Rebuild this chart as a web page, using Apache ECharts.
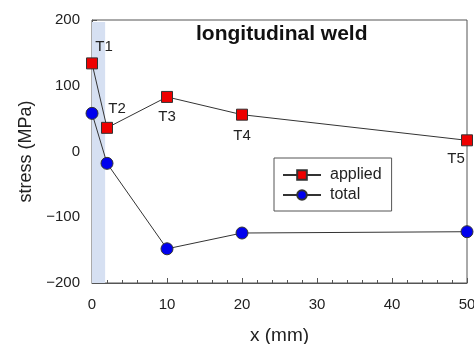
<!DOCTYPE html>
<html>
<head>
<meta charset="utf-8">
<script src="https://cdn.jsdelivr.net/npm/echarts@6/dist/echarts.min.js"></script>
<style>
  html, body { margin: 0; padding: 0; background: #fff; }
  #chart { width: 474px; height: 344px; }
</style>
</head>
<body>
<div id="chart"></div>
<script>
// data
const xPos = [0, 2, 10, 20, 50];
const applied = [134, 36, 83, 56, 17];
const total = [58, -18, -148, -124, -122];
const pointNames = ["T1", "T2", "T3", "T4", "T5"];
const yTicks = [-200, -100, 0, 100, 200];
const weldZone = [0, 1.75];

// where each T label sits relative to its point
const labelPlace = [
  { position: "top", offset: [12, 2] },
  { position: "top", offset: [10, 0] },
  { position: "bottom", offset: [0, 1] },
  { position: "bottom", offset: [0, 3] },
  { position: "bottom", offset: [-11, 0] },
];

const font = "Liberation Sans, Arial, sans-serif";

const chart = echarts.init(document.getElementById("chart"));
chart.setOption({
  animation: false,
  textStyle: { fontFamily: font },
  title: {
    text: "longitudinal weld",
    left: 196,
    top: 24,
    padding: 0,
    textStyle: { fontSize: 21, fontWeight: "bold", color: "#111", fontFamily: font },
  },
  legend: {
    orient: "vertical",
    left: 274,
    top: 158,
    padding: [9, 10, 8, 8],
    itemGap: 4,
    itemWidth: 38,
    itemHeight: 12,
    borderColor: "#555",
    borderWidth: 1,
    textStyle: { fontSize: 16, color: "#222", fontFamily: font, padding: [0, 0, 0, 4] },
    data: ["applied", "total"],
  },
  grid: {
    left: 92, right: 7, top: 20, bottom: 61,
    outerBoundsMode: "none",
    containLabel: false,
    show: true, borderColor: "#555", borderWidth: 1,
  },
  xAxis: {
    type: "value",
    min: 0, max: 50, interval: 10,
    name: "x (mm)",
    nameLocation: "middle",
    nameGap: 43,
    nameTextStyle: { fontSize: 19, color: "#222", fontFamily: font },
    axisLine: { show: true, onZero: false, lineStyle: { color: "#555" } },
    axisTick: { inside: true, length: 5, lineStyle: { color: "#555" } },
    minorTick: { show: true, splitNumber: 5, length: 3, lineStyle: { color: "#555" } },
    splitLine: { show: false },
    axisLabel: { fontSize: 15, color: "#222", margin: 14, fontFamily: font },
  },
  yAxis: {
    type: "value",
    min: -200, max: 200, interval: 100,
    name: "stress (MPa)",
    nameLocation: "middle",
    nameGap: 55,
    nameTextStyle: { fontSize: 18, color: "#222", fontFamily: font },
    axisLine: { show: true, onZero: false, lineStyle: { color: "#555" } },
    axisTick: { inside: true, length: 5, lineStyle: { color: "#555" } },
    minorTick: { show: true, splitNumber: 5, length: 3, lineStyle: { color: "#555" } },
    splitLine: { show: false },
    axisLabel: {
      fontSize: 15, color: "#222", margin: 12, fontFamily: font,
      formatter: (v) => (yTicks.includes(v) ? (v < 0 ? "\u2212" + Math.abs(v) : String(v)) : ""),
    },
  },
  series: [
    {
      name: "applied",
      type: "line",
      z: 3,
      data: xPos.map((x, i) => ({
        value: [x, applied[i]],
        label: {
          show: true,
          formatter: pointNames[i],
          position: labelPlace[i].position,
          offset: labelPlace[i].offset,
          fontSize: 15,
          color: "#222",
          fontFamily: font,
        },
      })),
      symbol: "rect",
      symbolSize: 11,
      itemStyle: { color: "#ee0000", borderColor: "#333", borderWidth: 1 },
      lineStyle: { color: "#333", width: 1 },
      markArea: {
        silent: true,
        itemStyle: { color: "#d6e0f2" },
        data: [[{ xAxis: weldZone[0], yAxis: 197 }, { xAxis: weldZone[1], yAxis: -200 }]],
      },
    },
    {
      name: "total",
      type: "line",
      z: 3,
      data: xPos.map((x, i) => [x, total[i]]),
      symbol: "circle",
      symbolSize: 12,
      itemStyle: { color: "#0000ee", borderColor: "#333", borderWidth: 1 },
      lineStyle: { color: "#333", width: 1 },
    },
  ],
});
</script>
</body>
</html>
